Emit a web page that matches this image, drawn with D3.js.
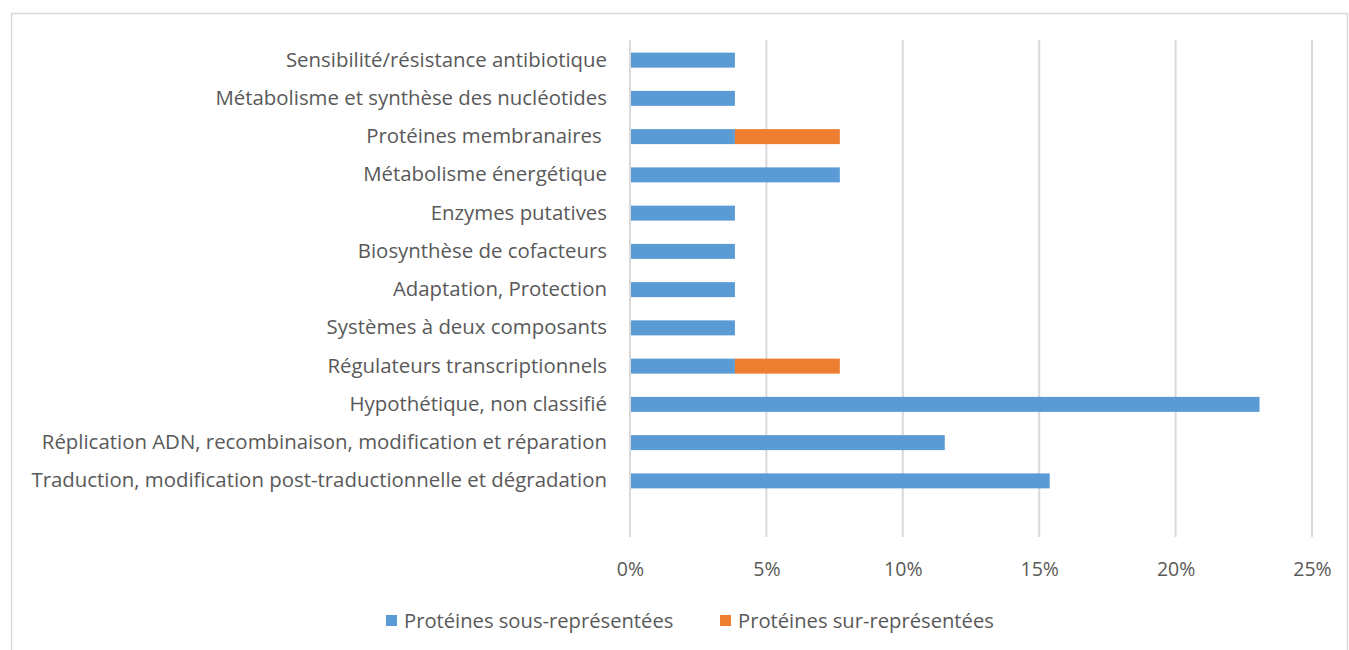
<!DOCTYPE html>
<html>
<head>
<meta charset="utf-8">
<script src="https://cdn.jsdelivr.net/npm/d3@7"></script>
<style>
  body { margin: 0; background: #fff; }
  svg text { font-family: "Open Sans", "Noto Sans", sans-serif; fill: #595959; white-space: pre; }
</style>
</head>
<body>
<svg id="chart" width="1349" height="650"></svg>
<script>
// Functional categories, top to bottom
const categories = [
  "Sensibilité/résistance antibiotique",
  "Métabolisme et synthèse des nucléotides",
  "Protéines membranaires ",
  "Métabolisme énergétique",
  "Enzymes putatives",
  "Biosynthèse de cofacteurs",
  "Adaptation, Protection",
  "Systèmes à deux composants",
  "Régulateurs transcriptionnels",
  "Hypothétique, non classifié",
  "Réplication ADN, recombinaison, modification et réparation",
  "Traduction, modification post-traductionnelle et dégradation"
];
// Share of proteins per category (%)
const sousRepresentees = [3.846, 3.846, 3.846, 7.692, 3.846, 3.846, 3.846, 3.846, 3.846, 23.077, 11.538, 15.385];
const surRepresentees  = [0, 0, 3.846, 0, 0, 0, 0, 0, 3.846, 0, 0, 0];
const seriesNames = ["Protéines sous-représentées", "Protéines sur-représentées"];
const seriesColors = ["#5B9BD5", "#ED7D31"];
const xTicks = [0, 5, 10, 15, 20, 25];

const FONT = '"Open Sans", "Noto Sans", sans-serif';
const svg = d3.select("#chart");

// outer frame
svg.append("rect")
  .attr("x", 11.5).attr("y", 13.5)
  .attr("width", 1336).attr("height", 660)
  .attr("fill", "none").attr("stroke", "#D9D9D9").attr("stroke-width", 1.5);

const plotTop = 40, plotBottom = 537;
const x = d3.scaleLinear().domain([0, 25]).range([630, 1312]);
const y = d3.scaleBand().domain(categories).range([41, 500]).paddingInner(0.608).paddingOuter(0.304);

// vertical gridlines
svg.append("g").selectAll("line").data(xTicks).join("line")
  .attr("x1", d => x(d)).attr("x2", d => x(d))
  .attr("y1", plotTop).attr("y2", plotBottom)
  .attr("stroke", "#D9D9D9").attr("stroke-width", 2);

// x axis tick labels
const xAxis = d3.axisBottom(x).tickValues(xTicks).tickFormat(d => d + "%").tickSize(0).tickPadding(0);
const gx = svg.append("g").attr("transform", `translate(0,${561})`).call(xAxis);
gx.select(".domain").remove();
gx.selectAll("text").attr("font-size", 19.5).attr("dy", "0.75em")
  .style("font-family", FONT).attr("fill", "#595959");

// stacked data
const rows = categories.map((c, i) => ({ cat: c, sous: sousRepresentees[i], sur: surRepresentees[i] }));
const stack = d3.stack().keys(["sous", "sur"])(rows);

svg.append("g").selectAll("g").data(stack).join("g")
  .attr("fill", (d, i) => seriesColors[i])
  .selectAll("rect").data(d => d).join("rect")
  .attr("x", d => x(d[0]))
  .attr("y", d => y(d.data.cat))
  .attr("width", d => x(d[1]) - x(d[0]))
  .attr("height", y.bandwidth());

// category labels
const yAxis = d3.axisLeft(y).tickSize(0).tickPadding(0);
const gy = svg.append("g").attr("transform", `translate(607,0)`).call(yAxis);
gy.select(".domain").remove();
gy.selectAll("text").attr("font-size", 20.4)
  .style("font-family", FONT).attr("fill", "#595959");

// axis baseline at 0%
svg.append("line").attr("x1", x(0)).attr("x2", x(0)).attr("y1", plotTop).attr("y2", plotBottom)
  .attr("stroke", "#D9D9D9").attr("stroke-width", 2);

// legend
const legendX = [386, 720];
const lg = svg.append("g").selectAll("g").data(seriesNames).join("g")
  .attr("transform", (d, i) => `translate(${legendX[i]},615)`);
lg.append("rect").attr("width", 11).attr("height", 11).attr("fill", (d, i) => seriesColors[i]);
lg.append("text").attr("x", 18).attr("y", 6).attr("dy", "0.35em")
  .attr("font-size", 20.2).style("font-family", FONT).text(d => d);
</script>
</body>
</html>
